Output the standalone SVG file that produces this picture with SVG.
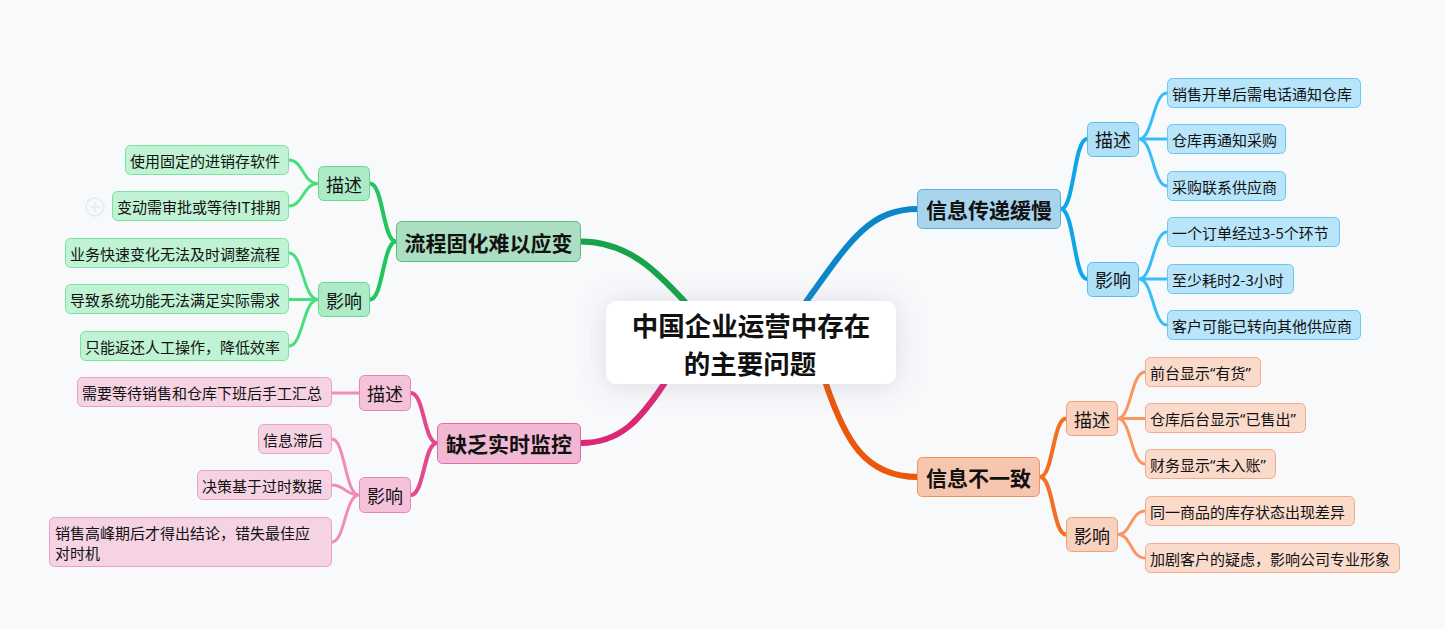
<svg xmlns="http://www.w3.org/2000/svg" width="1445" height="629" viewBox="0 0 1445 629">
<defs>
<filter id="shadow" x="-40%" y="-80%" width="180%" height="260%">
<feDropShadow dx="0" dy="2" stdDeviation="14" flood-color="#6b7280" flood-opacity="0.22"/>
</filter>
<style>
text{font-family:"Noto Sans CJK SC","Noto Sans",sans-serif;fill:#111}
.q{font-family:"Noto Sans","Liberation Sans",sans-serif}
.center{font-size:26.5px;font-weight:bold;text-anchor:middle;dominant-baseline:central}
.br{font-size:21px;font-weight:bold;text-anchor:middle;dominant-baseline:central}
.sub{font-size:18px;text-anchor:middle;dominant-baseline:central}
.leaf{font-size:15px;dominant-baseline:central}
.c{fill:none;stroke-linecap:round}
.m{stroke-width:6}
.s{stroke-width:4}
.l{stroke-width:3}
.bB{fill:#a8d4ec;stroke:#5aaedc}
.sB{fill:#aee0f7;stroke:#5cbdf0}
.lB{fill:#b8e5fa;stroke:#6cc6f2}
.bO{fill:#f7c6ae;stroke:#f0925e}
.sO{fill:#f8d2bf;stroke:#f5a070}
.lO{fill:#f9dacb;stroke:#f5ab85}
.bG{fill:#acdfc2;stroke:#5dbb84}
.sG{fill:#acebc6;stroke:#66d791}
.lG{fill:#bff3d3;stroke:#7be3a0}
.bP{fill:#f1b8d3;stroke:#e46aa2}
.sP{fill:#f4c2da;stroke:#ea84b4}
.lP{fill:#f5d3e3;stroke:#eca0c6}
</style>
</defs>
<rect width="1445" height="629" fill="#f8f9fb"/>
<g id="plus-icon">
<circle cx="95" cy="207" r="9" fill="none" stroke="#e4eaf2" stroke-width="1.5"/>
<path d="M90 207H100M95 202V212" stroke="#e4eaf2" stroke-width="1.5"/>
</g>
<g id="connectors">
<path class="c m" stroke="#0b87c9" d="M806 302C850 240 870 209 918 209"/>
<path class="c m" stroke="#ea580c" d="M826 384C845 440 865 477 918 477"/>
<path class="c m" stroke="#16a34a" d="M685 302C660 275 630 241.5 581 241.5"/>
<path class="c m" stroke="#db2777" d="M664 384C640 420 620 443 581 443"/>
<path class="c s" stroke="#0ea5e9" d="M1061 209C1074 209 1074 139 1087 139M1061 209C1074 209 1074 279 1087 279"/>
<path class="c l" stroke="#38bdf8" d="M1139 139C1153 139 1153 93 1167 93M1139 139H1167M1139 139C1153 139 1153 186 1167 186M1139 279C1153 279 1153 232 1167 232M1139 279H1167M1139 279C1153 279 1153 325 1167 325"/>
<path class="c s" stroke="#f36f21" d="M1040 477C1053 477 1053 418.5 1066 418.5M1040 477C1053 477 1053 534.5 1066 534.5"/>
<path class="c l" stroke="#fb9562" d="M1118 418.5C1131 418.5 1131 372 1145 372M1118 418.5H1145M1118 418.5C1131 418.5 1131 464 1145 464M1118 534.5C1131 534.5 1131 511 1145 511M1118 534.5C1131 534.5 1131 558 1145 558"/>
<path class="c s" stroke="#22c55e" d="M396 241.5C383 241.5 383 183.5 370 183.5M396 241.5C383 241.5 383 299.5 370 299.5"/>
<path class="c l" stroke="#4ade80" d="M318 183.5C303 183.5 303 160 289 160M318 183.5C303 183.5 303 206 289 206M318 299.5C303 299.5 303 253 289 253M318 299.5H289M318 299.5C303 299.5 303 346 289 346"/>
<path class="c s" stroke="#e4488e" d="M437 443C424 443 424 393 411 393M437 443C424 443 424 495 411 495"/>
<path class="c l" stroke="#f08bba" d="M359 393H332M359 495C345 495 345 439 332 439M359 495C345 495 345 485 332 485M359 495C345 495 345 542 332 542"/>
</g>
<g id="center">
<rect x="606" y="301" width="290" height="83" rx="11" fill="#fff" filter="url(#shadow)"/>
<text class="center" x="751" y="324">中国企业运营中存在</text>
<text class="center" x="750" y="362">的主要问题</text>
</g>
<g id="b-info-slow">
<rect class="bB" x="917.5" y="189.5" width="143" height="39" rx="5"/>
<text class="br" x="989" y="209">信息传递缓慢</text>
</g>
<g id="b-info-slow-desc"><rect class="sB" x="1087.5" y="122.5" width="51" height="34" rx="5"/><text class="sub" x="1113" y="139">描述</text></g>
<g id="b-info-slow-impact"><rect class="sB" x="1087.5" y="262.5" width="51" height="34" rx="5"/><text class="sub" x="1113" y="279">影响</text></g>
<g id="b1-l1"><rect class="lB" x="1167.5" y="78.5" width="193" height="29" rx="5"/><text class="leaf" x="1172" y="93">销售开单后需电话通知仓库</text></g>
<g id="b1-l2"><rect class="lB" x="1167.5" y="124.5" width="118" height="29" rx="5"/><text class="leaf" x="1172" y="139">仓库再通知采购</text></g>
<g id="b1-l3"><rect class="lB" x="1167.5" y="171.5" width="118" height="29" rx="5"/><text class="leaf" x="1172" y="186">采购联系供应商</text></g>
<g id="b1-l4"><rect class="lB" x="1167.5" y="217.5" width="172" height="29" rx="5"/><text class="leaf" x="1172" y="232">一个订单经过3-5个环节</text></g>
<g id="b1-l5"><rect class="lB" x="1167.5" y="264.5" width="126" height="29" rx="5"/><text class="leaf" x="1172" y="279">至少耗时2-3小时</text></g>
<g id="b1-l6"><rect class="lB" x="1167.5" y="310.5" width="193" height="29" rx="5"/><text class="leaf" x="1172" y="325">客户可能已转向其他供应商</text></g>
<g id="b-inconsistent">
<rect class="bO" x="917.5" y="457.5" width="122" height="39" rx="5"/>
<text class="br" x="978.5" y="477">信息不一致</text>
</g>
<g id="b-inconsistent-desc"><rect class="sO" x="1066.5" y="401.5" width="51" height="34" rx="5"/><text class="sub" x="1092" y="418.5">描述</text></g>
<g id="b-inconsistent-impact"><rect class="sO" x="1066.5" y="517.5" width="51" height="34" rx="5"/><text class="sub" x="1092" y="534.5">影响</text></g>
<g id="b2-l1"><rect class="lO" x="1145.5" y="357.5" width="115" height="29" rx="5"/><text class="leaf" x="1150" y="372">前台显示<tspan class="q">“</tspan>有货<tspan class="q">”</tspan></text></g>
<g id="b2-l2"><rect class="lO" x="1145.5" y="403.5" width="160" height="29" rx="5"/><text class="leaf" x="1150" y="418">仓库后台显示<tspan class="q">“</tspan>已售出<tspan class="q">”</tspan></text></g>
<g id="b2-l3"><rect class="lO" x="1145.5" y="449.5" width="130" height="29" rx="5"/><text class="leaf" x="1150" y="464">财务显示<tspan class="q">“</tspan>未入账<tspan class="q">”</tspan></text></g>
<g id="b2-l4"><rect class="lO" x="1145.5" y="496.5" width="209" height="29" rx="5"/><text class="leaf" x="1150" y="511">同一商品的库存状态出现差异</text></g>
<g id="b2-l5"><rect class="lO" x="1145.5" y="543.5" width="254" height="29" rx="5"/><text class="leaf" x="1150" y="558">加剧客户的疑虑，影响公司专业形象</text></g>
<g id="b-rigid">
<rect class="bG" x="396.5" y="221.5" width="184" height="40" rx="5"/>
<text class="br" x="488.5" y="241.5">流程固化难以应变</text>
</g>
<g id="b-rigid-desc"><rect class="sG" x="318.5" y="166.5" width="51" height="34" rx="5"/><text class="sub" x="344" y="183.5">描述</text></g>
<g id="b-rigid-impact"><rect class="sG" x="318.5" y="282.5" width="51" height="34" rx="5"/><text class="sub" x="344" y="299.5">影响</text></g>
<g id="b3-l1"><rect class="lG" x="125.5" y="145.5" width="163" height="29" rx="5"/><text class="leaf" x="130" y="160">使用固定的进销存软件</text></g>
<g id="b3-l2"><rect class="lG" x="112.5" y="191.5" width="176" height="29" rx="5"/><text class="leaf" x="117" y="206">变动需审批或等待IT排期</text></g>
<g id="b3-l3"><rect class="lG" x="65.5" y="238.5" width="223" height="29" rx="5"/><text class="leaf" x="70" y="253">业务快速变化无法及时调整流程</text></g>
<g id="b3-l4"><rect class="lG" x="65.5" y="284.5" width="223" height="29" rx="5"/><text class="leaf" x="70" y="299">导致系统功能无法满足实际需求</text></g>
<g id="b3-l5"><rect class="lG" x="80.5" y="331.5" width="208" height="29" rx="5"/><text class="leaf" x="85" y="346">只能返还人工操作，降低效率</text></g>
<g id="b-monitor">
<rect class="bP" x="437.5" y="423.5" width="143" height="40" rx="5"/>
<text class="br" x="509" y="443">缺乏实时监控</text>
</g>
<g id="b-monitor-desc"><rect class="sP" x="359.5" y="375.5" width="51" height="35" rx="5"/><text class="sub" x="385" y="393">描述</text></g>
<g id="b-monitor-impact"><rect class="sP" x="359.5" y="477.5" width="51" height="35" rx="5"/><text class="sub" x="385" y="495">影响</text></g>
<g id="b4-l1"><rect class="lP" x="77.5" y="377.5" width="254" height="29" rx="5"/><text class="leaf" x="82" y="392">需要等待销售和仓库下班后手工汇总</text></g>
<g id="b4-l2"><rect class="lP" x="258.5" y="424.5" width="73" height="29" rx="5"/><text class="leaf" x="263" y="439">信息滞后</text></g>
<g id="b4-l3"><rect class="lP" x="197.5" y="470.5" width="134" height="29" rx="5"/><text class="leaf" x="202" y="485">决策基于过时数据</text></g>
<g id="b4-l4"><rect class="lP" x="49.5" y="517.5" width="282" height="49" rx="5"/><text class="leaf" x="55" y="532">销售高峰期后才得出结论，错失最佳应</text><text class="leaf" x="55" y="552">对时机</text></g>
</svg>
